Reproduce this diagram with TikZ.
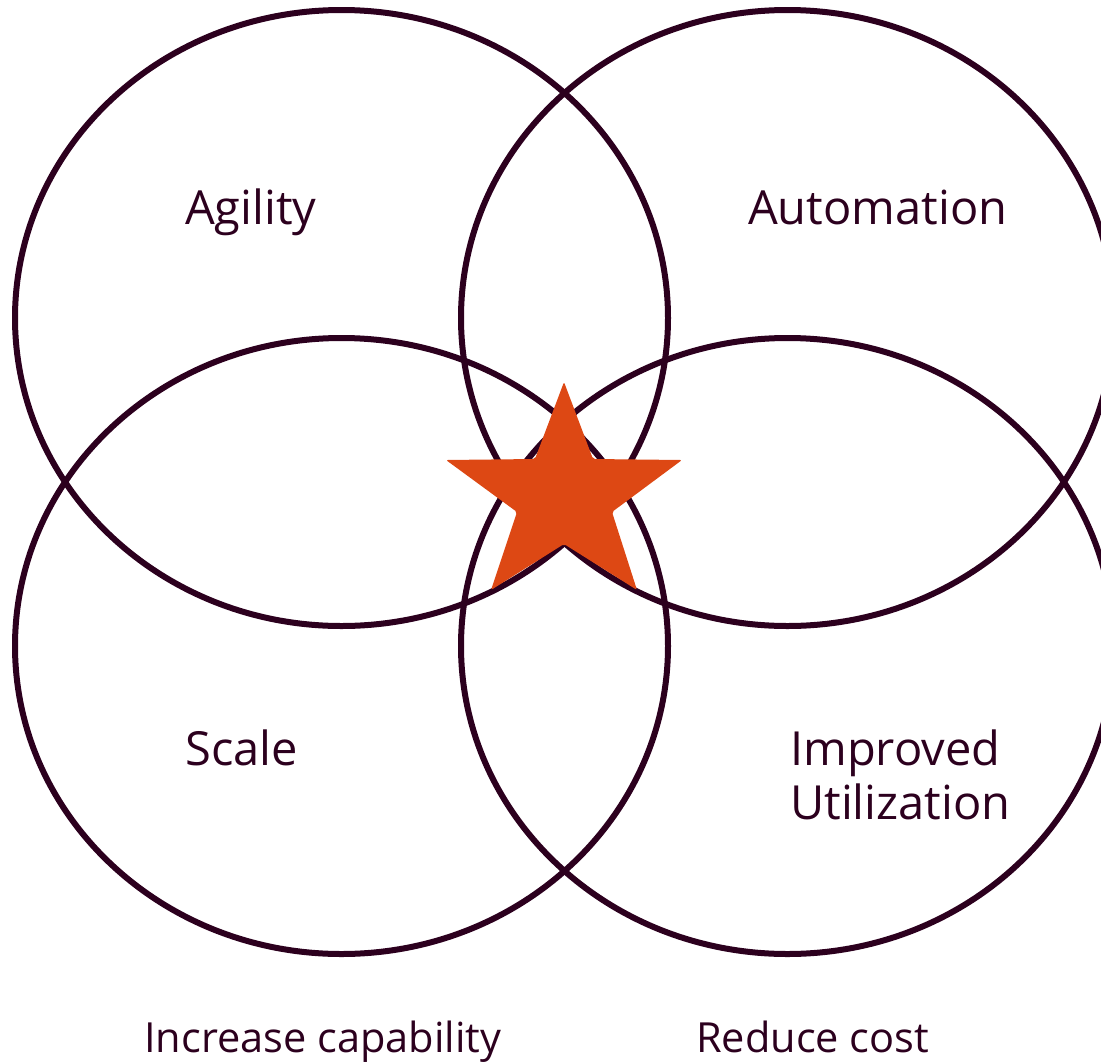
\documentclass[tikz,border=0pt]{standalone}
\usepackage{fontspec}
\setmainfont{Open Sans}
\definecolor{aubergine}{HTML}{2C001E}
\definecolor{ubuorange}{HTML}{DD4814}
\tikzset{
    ring/.style={draw=aubergine,line width=6pt},
    goal/.style={anchor=base west,text=aubergine,inner sep=0pt,font=\fontsize{47}{54}\selectfont,align=left},
    aim/.style={goal,font=\fontsize{41.5}{50}\selectfont}
}
\begin{document}
\begin{tikzpicture}[x=1pt,y=-1pt]
\useasboundingbox (0,0) rectangle (1101,1061);
    \begin{scope}
\clip (0,0) rectangle (1101,1061);
\draw[ring] (341.5,318) ellipse (326.5 and 308);
\draw[ring] (787.5,318) ellipse (326.5 and 308);
\draw[ring] (341.5,646) ellipse (326.5 and 308);
\draw[ring] (787.5,646) ellipse (326.5 and 308);
    \end{scope}
% star in the middle
\fill[ubuorange,rounded corners=2pt] (564,382) -- (593,459) -- (682,460) -- (612,512)
    -- (637,590) -- (564,544) -- (491,590) -- (517,512) -- (446,460) -- (535,459) -- cycle;
\node[goal] (agility) at (185,224) {Agility};
\node[goal] (automation) at (748,224) {Automation};
\node[goal] (scale) at (185,765) {Scale};
\node[goal] (utilization) at (790,819) {Improved\\Utilization};
\node[aim] (capability) at (144,1052) {Increase capability};
\node[aim] (cost) at (696,1052) {Reduce cost};
 \end{tikzpicture}
\end{document}
